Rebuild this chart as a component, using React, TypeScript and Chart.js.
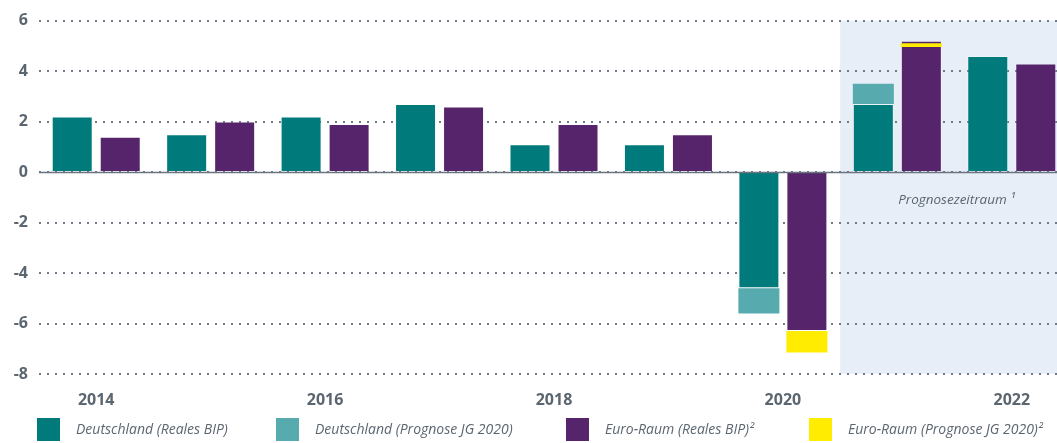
import React, { useEffect, useRef } from "react";
import { Chart, registerables } from "chart.js";

Chart.register(...registerables);

// ---- data ----
const years = ["2014", "2015", "2016", "2017", "2018", "2019", "2020", "2021", "2022"];
const labelledYears = ["2014", "2016", "2018", "2020", "2022"];
const deReal = [2.2, 1.5, 2.2, 2.7, 1.1, 1.1, -4.6, 2.7, 4.6];
const dePrognose: ([number, number] | null)[] = [null, null, null, null, null, null, [-4.6, -5.6], [2.7, 3.5], null];
const euReal = [1.4, 2.0, 1.9, 2.6, 1.9, 1.5, -6.3, 5.2, 4.3];
const euPrognose: ([number, number] | null)[] = [null, null, null, null, null, null, [-6.3, -7.15], [4.95, 5.1], null];
const seriesLabels = [
  "Deutschland (Reales BIP)",
  "Deutschland (Prognose JG 2020)",
  "Euro-Raum (Reales BIP)²",
  "Euro-Raum (Prognose JG 2020)²",
];
const yMin = -8;
const yMax = 6;
const yStep = 2;
const forecastStartIndex = 7;
const forecastLabel = "Prognosezeitraum ¹";
const forecastLabelValue = -1.1;

// ---- styles ----
const TEAL = "#007a7b";
const TEAL_LIGHT = "#57aaae";
const PURPLE = "#55246a";
const YELLOW = "#ffec00";
const TEXT = "#5b6670";
const SHADE = "#e8eef8";
const FONT = '"Open Sans", "Noto Sans", sans-serif';

const customPlugin = {
  id: "custom",
  beforeDraw(chart: any) {
    const { ctx, chartArea, scales } = chart;
    const x = scales.x;
    const start = (x.getPixelForValue(forecastStartIndex - 1) + x.getPixelForValue(forecastStartIndex)) / 2;
    ctx.save();
    ctx.fillStyle = SHADE;
    ctx.fillRect(start, chartArea.top, chartArea.right - start, chartArea.bottom - chartArea.top);
    ctx.restore();
  },
  afterDatasetsDraw(chart: any) {
    const { ctx, chartArea, scales } = chart;
    const x = scales.x;
    const y = scales.y;
    const y0 = Math.round(y.getPixelForValue(0)) + 0.5;
    ctx.save();
    ctx.strokeStyle = "#6a7580";
    ctx.lineWidth = 1.5;
    ctx.beginPath();
    ctx.moveTo(chartArea.left, y0);
    ctx.lineTo(chartArea.right, y0);
    ctx.stroke();
    const start = (x.getPixelForValue(forecastStartIndex - 1) + x.getPixelForValue(forecastStartIndex)) / 2;
    ctx.fillStyle = TEXT;
    ctx.font = `italic 13.5px ${FONT}`;
    ctx.textAlign = "center";
    ctx.textBaseline = "middle";
    ctx.fillText(forecastLabel, (start + chartArea.right) / 2 + 2, y.getPixelForValue(forecastLabelValue));
    ctx.restore();
  },
  afterDraw(chart: any) {
    const { ctx } = chart;
    const starts = [37, 276, 566, 809];
    ctx.save();
    ctx.font = `italic 14px ${FONT}`;
    ctx.textBaseline = "middle";
    ctx.textAlign = "left";
    chart.data.datasets.forEach((ds: any, i: number) => {
      ctx.fillStyle = ds.backgroundColor;
      ctx.fillRect(starts[i], 418, 23, 23);
      ctx.fillStyle = TEXT;
      ctx.fillText(ds.label, starts[i] + 39, 430);
    });
    ctx.restore();
  },
};

export default function App() {
  const ref = useRef<HTMLCanvasElement>(null);
  useEffect(() => {
    if (!ref.current) return;
    const barCommon = {
      categoryPercentage: 0.839,
      barPercentage: 0.854,
    };
    const chart = new Chart(ref.current, {
      type: "bar",
      data: {
        labels: years,
        datasets: [
          { ...barCommon, order: 1, label: seriesLabels[0], data: deReal, stack: "de", backgroundColor: TEAL, borderColor: "rgba(255,255,255,0.3)", borderWidth: 1 },
          { ...barCommon, order: 0, label: seriesLabels[1], data: dePrognose as any, stack: "de", backgroundColor: TEAL_LIGHT, borderWidth: 0 },
          { ...barCommon, order: 1, label: seriesLabels[2], data: euReal, stack: "eu", backgroundColor: PURPLE, borderColor: "rgba(255,255,255,0.3)", borderWidth: 1 },
          { ...barCommon, order: 0, label: seriesLabels[3], data: euPrognose as any, stack: "eu", backgroundColor: YELLOW, borderWidth: 0 },
        ],
      },
      options: {
        animation: false,
        responsive: false,
        devicePixelRatio: 1,
        layout: { padding: { top: 18, bottom: 36, left: 0, right: 0 } },
        plugins: { legend: { display: false }, tooltip: { enabled: false } },
        scales: {
          x: {
            stacked: true,
            grid: { display: false },
            border: { display: false },
            ticks: {
              autoSkip: false,
              maxRotation: 0,
              padding: 9,
              color: TEXT,
              font: { family: FONT, size: 16, weight: "bold" },
              callback: (_v: any, i: number) => (labelledYears.includes(years[i]) ? years[i] : ""),
            },
            afterFit: (s: any) => {
              s.height = 33;
            },
          },
          y: {
            stacked: false,
            min: yMin,
            max: yMax,
            grid: { color: "#6f7a86", lineWidth: 2, drawTicks: false },
            border: { display: false, dash: [2, 6] },
            ticks: {
              stepSize: yStep,
              padding: 11,
              color: TEXT,
              font: { family: FONT, size: 16, weight: "bold" },
            },
            afterFit: (s: any) => {
              s.width = 39;
            },
          },
        },
      },
      plugins: [customPlugin],
    } as any);
    return () => chart.destroy();
  }, []);
  return (
    <div style={{ position: "absolute", left: 0, top: 0, width: 1057, height: 443, overflow: "hidden", background: "#fff" }}>
      <canvas ref={ref} width={1069} height={443} style={{ width: 1069, height: 443, display: "block" }} />
    </div>
  );
}
